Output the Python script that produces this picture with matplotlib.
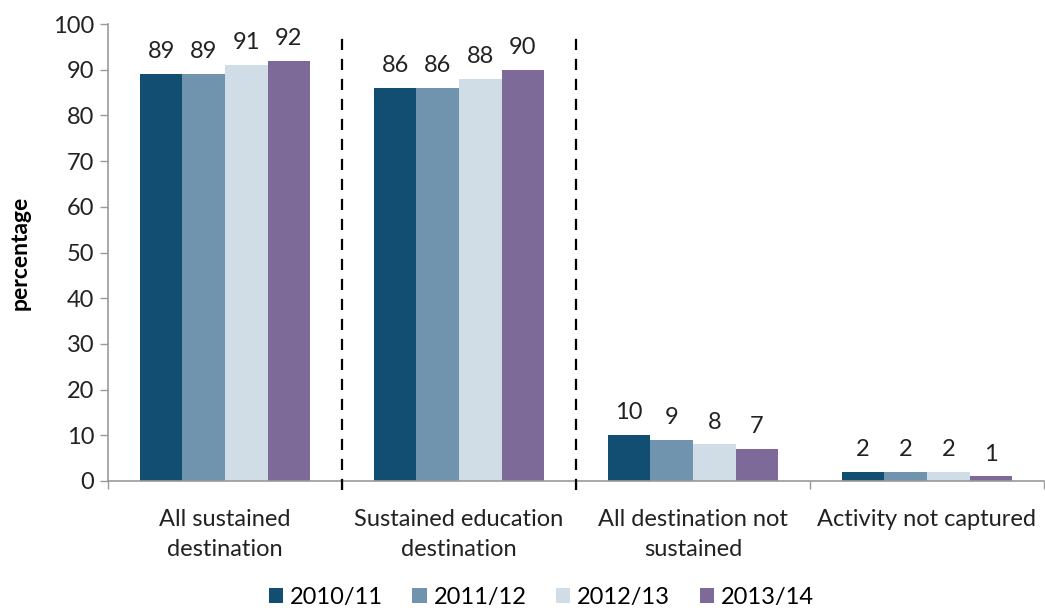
import matplotlib
matplotlib.use("Agg")
import matplotlib.pyplot as plt
import numpy as np
from matplotlib.patches import Patch

plt.rcParams['font.family'] = ['Lato', 'DejaVu Sans']

categories = ["All sustained\ndestination", "Sustained education\ndestination",
              "All destination not\nsustained", "Activity not captured"]
series_names = ["2010/11", "2011/12", "2012/13", "2013/14"]
values = {
    "2010/11": [89, 86, 10, 2],
    "2011/12": [89, 86, 9, 2],
    "2012/13": [91, 88, 8, 2],
    "2013/14": [92, 90, 7, 1],
}
colors = ["#124E72", "#7094AE", "#D0DDE6", "#7D6A98"]
FS = 17

fig = plt.figure(figsize=(10.45, 6.08), dpi=100)
ax = fig.add_axes([0.1033, 0.2089, 0.8957, 0.7516])

x = np.arange(len(categories))
bw = 0.182
for i, name in enumerate(series_names):
    pos = x + (i - 1.5) * bw
    ax.bar(pos, values[name], width=bw, color=colors[i], label=name, zorder=2)
    for p, v in zip(pos, values[name]):
        ax.text(p, v + 2.6, str(v), ha='center', va='bottom', fontsize=FS, color='#222222')

ax.set_xlim(-0.5, len(categories) - 0.5)
ax.set_ylim(0, 100)
ax.set_yticks(np.arange(0, 101, 10))
ax.tick_params(axis='y', labelsize=FS, length=6, color='#999999', width=1, labelcolor='#222222', pad=4)
ax.set_xticks(x)
ax.set_xticklabels(categories, fontsize=FS, color='#222222', linespacing=1.55)
ax.tick_params(axis='x', length=0, pad=20)
ax.set_xticks(np.arange(-0.5, len(categories), 1), minor=True)
ax.tick_params(axis='x', which='minor', length=6, color='#999999', width=1)

for s in ['top', 'right']:
    ax.spines[s].set_visible(False)
for s in ['left', 'bottom']:
    ax.spines[s].set_color('#999999')
    ax.spines[s].set_linewidth(1.2)

for b in [0.5, 1.5]:
    ax.plot([b, b], [-2, 98.5], linestyle=(0, (5, 4)), color='black', lw=1.6, clip_on=False, zorder=3)

ax.set_ylabel('percentage', fontsize=16.5, fontweight='bold', labelpad=16)

handles = [Patch(facecolor=c, label=n) for c, n in zip(colors, series_names)]
fig.legend(handles=handles, loc='lower center', bbox_to_anchor=(0.518, -0.035), ncol=4, frameon=False,
           fontsize=FS, handlelength=0.6, handleheight=0.6, handletextpad=0.3, columnspacing=1.25)

fig.savefig("out.png", dpi=100)
